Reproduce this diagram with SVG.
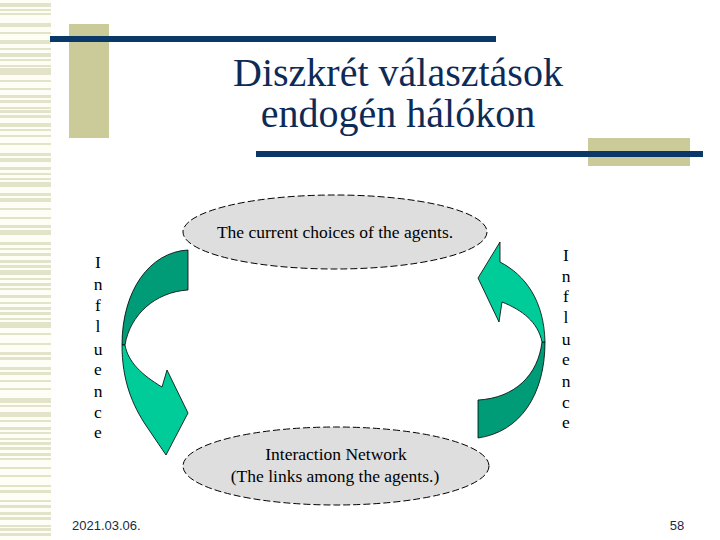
<svg xmlns="http://www.w3.org/2000/svg" width="720" height="540" viewBox="0 0 720 540">
<style>
.stripe{fill:#e3e3c9}
.title{font-family:"Liberation Serif",serif;font-size:40px;fill:#0d2b57;text-anchor:middle}
.lbl{font-family:"Liberation Serif",serif;font-size:17.5px;fill:#000;text-anchor:middle}
.ell{fill:#dedede;stroke:#000;stroke-width:1;stroke-dasharray:7,3}
.dark{fill:#009b77;stroke:#000;stroke-width:0.8}
.light{fill:#00cc99;stroke:#000;stroke-width:0.8}
.foot{font-family:"Liberation Sans",sans-serif;font-size:13px;fill:#1a2a44}
.bar{fill:#0a3868}
.beige{fill:#cbcb9a}
</style>
<rect width="720" height="540" fill="#fff"/>
<g id="stripes">
<rect x="0" y="0" width="51" height="540" fill="#fefef6"/>
<g class="stripe">
<rect x="0" y="3" width="51" height="4"/><rect x="0" y="9" width="51" height="2"/><rect x="0" y="13" width="51" height="2"/><rect x="0" y="23" width="51" height="4"/><rect x="0" y="32" width="51" height="2"/><rect x="0" y="40" width="51" height="4"/><rect x="0" y="48" width="51" height="2"/><rect x="0" y="53" width="51" height="4"/><rect x="0" y="59" width="51" height="2"/><rect x="0" y="65" width="51" height="2"/><rect x="0" y="68" width="51" height="7"/><rect x="0" y="80" width="51" height="2"/><rect x="0" y="88" width="51" height="2"/><rect x="0" y="95" width="51" height="3"/><rect x="0" y="100" width="51" height="3"/><rect x="0" y="107" width="51" height="2"/><rect x="0" y="110" width="51" height="3"/><rect x="0" y="115" width="51" height="3"/><rect x="0" y="123" width="51" height="4"/><rect x="0" y="129" width="51" height="2"/>
<rect x="0" y="135" width="51" height="2"/><rect x="0" y="143" width="51" height="2"/><rect x="0" y="153" width="51" height="3"/><rect x="0" y="158" width="51" height="4"/><rect x="0" y="167" width="51" height="3"/><rect x="0" y="173" width="51" height="2"/><rect x="0" y="178" width="51" height="2"/><rect x="0" y="182" width="51" height="5"/><rect x="0" y="193" width="51" height="3"/><rect x="0" y="198" width="51" height="4"/><rect x="0" y="208" width="51" height="2"/><rect x="0" y="217" width="51" height="2"/><rect x="0" y="225" width="51" height="3"/><rect x="0" y="230" width="51" height="5"/><rect x="0" y="242" width="51" height="3"/><rect x="0" y="248" width="51" height="2"/><rect x="0" y="253" width="51" height="3"/><rect x="0" y="260" width="51" height="3"/><rect x="0" y="265" width="51" height="3"/>
<rect x="0" y="270" width="51" height="5"/><rect x="0" y="278" width="51" height="2"/><rect x="0" y="283" width="51" height="3"/><rect x="0" y="288" width="51" height="2"/><rect x="0" y="295" width="51" height="3"/><rect x="0" y="302" width="51" height="2"/><rect x="0" y="307" width="51" height="3"/><rect x="0" y="312" width="51" height="3"/><rect x="0" y="318" width="51" height="2"/><rect x="0" y="322" width="51" height="6"/><rect x="0" y="333" width="51" height="2"/><rect x="0" y="343" width="51" height="2"/><rect x="0" y="352" width="51" height="3"/><rect x="0" y="357" width="51" height="3"/><rect x="0" y="367" width="51" height="3"/><rect x="0" y="372" width="51" height="3"/><rect x="0" y="380" width="51" height="2"/><rect x="0" y="388" width="51" height="2"/><rect x="0" y="398" width="51" height="5"/>
<rect x="0" y="405" width="51" height="2"/><rect x="0" y="412" width="51" height="5"/><rect x="0" y="420" width="51" height="2"/><rect x="0" y="427" width="51" height="3"/><rect x="0" y="432" width="51" height="2"/><rect x="0" y="438" width="51" height="2"/><rect x="0" y="442" width="51" height="3"/><rect x="0" y="447" width="51" height="3"/><rect x="0" y="453" width="51" height="3"/><rect x="0" y="458" width="51" height="2"/><rect x="0" y="467" width="51" height="2"/><rect x="0" y="475" width="51" height="2"/><rect x="0" y="485" width="51" height="2"/><rect x="0" y="490" width="51" height="3"/><rect x="0" y="500" width="51" height="2"/><rect x="0" y="505" width="51" height="3"/><rect x="0" y="512" width="51" height="3"/><rect x="0" y="517" width="51" height="3"/><rect x="0" y="525" width="51" height="2"/><rect x="0" y="528" width="51" height="3"/><rect x="0" y="533" width="51" height="3"/>
</g>
</g>
<g id="title-decor">
<rect class="beige" x="69" y="24" width="40" height="114"/>
<rect class="bar" x="50" y="36" width="446" height="6"/>
<rect class="beige" x="588" y="138" width="102" height="28"/>
<rect class="bar" x="256" y="151" width="447" height="6"/>
</g>
<g id="title">
<text class="title" x="398" y="86">Diszkrét választások</text>
<text class="title" x="398" y="127">endogén hálókon</text>
</g>
<g id="connectors">
<g id="left-arrow">
<path class="dark" d="M188,250 C150,252 122,290 122,345 L125,345 C130,315 155,292 188,290 Z"/>
<path class="light" d="M122,345 C122,380 132,405 147,427 L166,455 L188,413 L167,370 L162,387 C142,375 128,362 125,345 Z"/>
</g>
<g id="right-arrow">
<path class="dark" d="M478,400 L478,438 C520,432 545,395 545,342 L542,342 C538,375 515,398 478,400 Z"/>
<path class="light" d="M545,342 C544,300 525,275 500,262 L500,242 L478,278 L499,322 L502,302 C522,310 538,322 542,342 Z"/>
</g>
</g>
<g id="node-choices">
<ellipse class="ell" cx="335" cy="232" rx="152" ry="37"/>
<text class="lbl" x="335" y="238">The current choices of the agents.</text>
</g>
<g id="node-network">
<ellipse class="ell" cx="336" cy="466" rx="153" ry="39"/>
<text class="lbl" x="336" y="460">Interaction Network</text>
<text class="lbl" x="335" y="482">(The links among the agents.)</text>
</g>
<g id="label-left">
<text class="lbl" x="98" y="268">I</text>
<text class="lbl" x="98" y="290">n</text>
<text class="lbl" x="98" y="311">f</text>
<text class="lbl" x="98" y="332">l</text>
<text class="lbl" x="98" y="355">u</text>
<text class="lbl" x="98" y="375">e</text>
<text class="lbl" x="98" y="397">n</text>
<text class="lbl" x="98" y="418">c</text>
<text class="lbl" x="98" y="438">e</text>
</g>
<g id="label-right">
<text class="lbl" x="566" y="261">I</text>
<text class="lbl" x="566" y="282">n</text>
<text class="lbl" x="566" y="302">f</text>
<text class="lbl" x="566" y="323">l</text>
<text class="lbl" x="566" y="345">u</text>
<text class="lbl" x="566" y="365">e</text>
<text class="lbl" x="566" y="387">n</text>
<text class="lbl" x="566" y="408">c</text>
<text class="lbl" x="566" y="428">e</text>
</g>
<g id="footer">
<text class="foot" x="72" y="530">2021.03.06.</text>
<text class="foot" x="677" y="530" text-anchor="middle">58</text>
</g>
</svg>
